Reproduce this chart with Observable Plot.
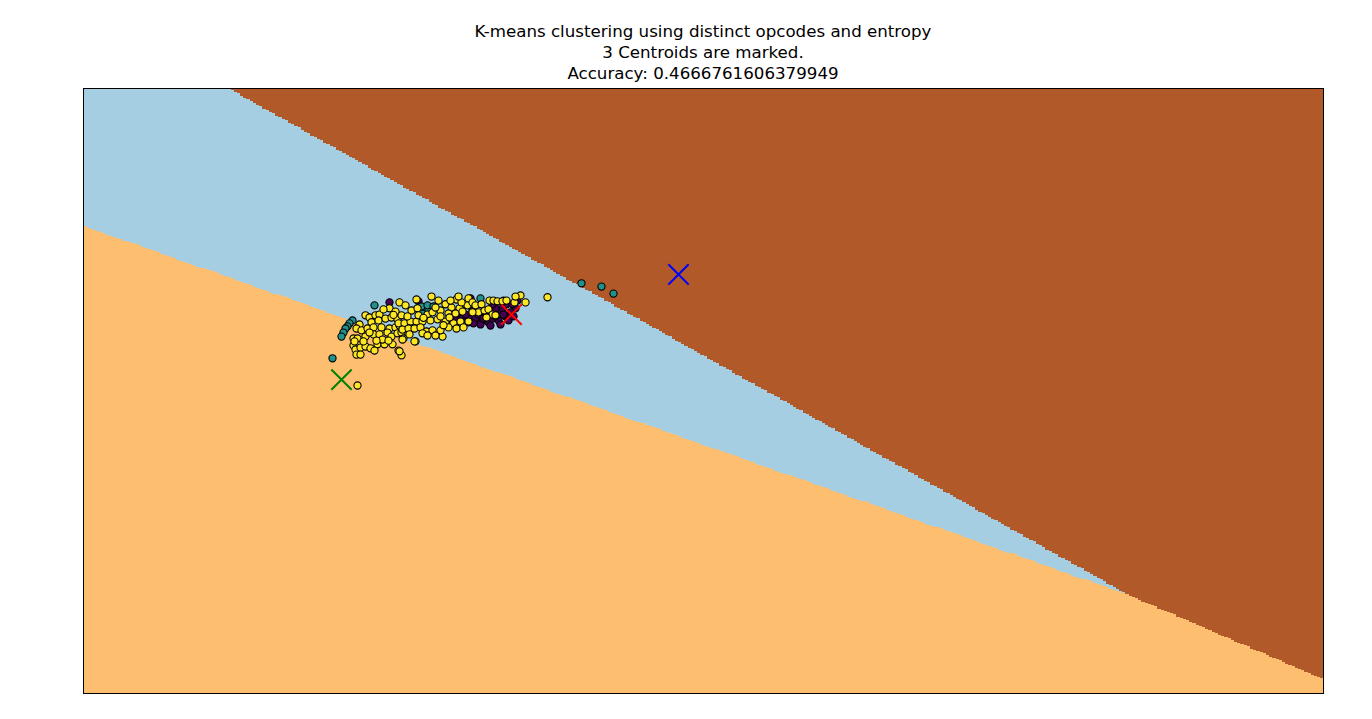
<!DOCTYPE html>
<html>
<head>
<meta charset="utf-8">
<script src="https://cdn.jsdelivr.net/npm/d3@7"></script>
<script src="https://cdn.jsdelivr.net/npm/@observablehq/plot@0.6"></script>
<style>
  html, body { margin: 0; padding: 0; background: #fff; }
  #wrap { position: relative; width: 1372px; height: 719px; }
  #title { position: absolute; left: 83px; top: 21px; width: 1240px; text-align: center;
    font-family: "DejaVu Sans", sans-serif; font-size: 16.67px; line-height: 21px; color: #000; }
</style>
</head>
<body>
<div id="wrap">
  <div id="chart"></div>
  <div id="title">K-means clustering using distinct opcodes and entropy<br>3 Centroids are marked.<br>Accuracy: 0.4666761606379949</div>
</div>
<script>
// Data domain (feature 1: distinct opcodes, feature 2: entropy) – arbitrary units
const xDomain = [0, 12.4];
const yDomain = [0, 16.46];

// K-means centroids
const centroidX = [4.28, 2.58, 5.95];
const centroidY = [10.31, 8.54, 11.40];
const centroidColors = ["#ff0000", "#008000", "#0000ff"];

// Region colours (Paired colormap) for cluster labels 0,1,2
const regionColors = ["#a6cee3", "#fdbf6f", "#b15928"];

// True label colours (viridis)
const labelColors = ["#440154", "#21918c", "#fde725"];

// Samples with true label 0
const label0 = [
  [3.06,10.64],[3.35,10.67],[3.87,10.75],[3.87,10.20],[4.15,10.37],[4.19,10.48],[4.15,10.15],
  [3.85,10.10],[3.92,10.20],[3.99,10.15],[4.05,10.10],[4.23,10.59],[4.32,10.48],[4.27,10.37],
  [4.22,10.26],[4.09,10.20],[4.02,10.31],[3.95,10.31],[4.12,10.48],[4.29,10.59],[4.25,10.15],
  [4.17,10.04],[4.07,10.01],[3.97,10.04],[3.79,10.20],[3.72,10.20],[3.65,10.10],[3.89,10.42],
  [3.82,10.31],[4.20,10.69],[4.34,10.69],[4.09,10.59],[3.75,10.37],[4.12,10.26],[4.20,10.31],
  [4.00,10.20],[3.90,10.07],[4.30,10.26]
];
// Samples with true label 1
const label1 = [
  [2.91,10.56],[2.69,10.15],[2.66,10.07],[2.64,9.99],[2.62,9.93],[2.60,9.82],[2.58,9.71],
  [2.49,9.12],[4.98,11.16],[5.18,11.07],[5.30,10.88],[3.39,10.34],[3.45,10.45],[3.38,10.53],
  [3.44,10.56],[3.50,10.53],[3.97,10.75],[3.15,10.26]
];
// Samples with true label 2
const label2 = [
  [3.16,10.64],[3.06,10.48],[2.74,8.38],[2.82,10.29],[2.86,10.23],[2.92,10.29],[2.96,10.31],
  [2.88,10.10],[2.95,10.15],[3.02,10.20],[3.08,10.23],[3.14,10.18],[3.18,10.29],[2.76,10.04],
  [2.73,9.93],[2.78,9.88],[2.84,9.93],[2.90,9.96],[2.98,9.96],[3.06,9.93],[3.12,9.96],
  [3.16,10.01],[2.70,9.66],[2.74,9.66],[2.82,9.71],[2.90,9.77],[2.96,9.77],[3.04,9.82],
  [3.08,9.71],[3.14,9.80],[3.18,9.82],[2.70,9.47],[2.72,9.36],[2.77,9.41],[2.82,9.44],
  [2.87,9.39],[2.94,9.50],[3.01,9.50],[3.09,9.50],[3.15,9.33],[3.18,9.20],[2.73,9.22],
  [2.77,9.22],[2.91,9.33],[2.71,9.58],[2.80,9.58],[3.33,10.72],[3.48,10.80],[4.64,10.78],
  [4.37,10.83],[4.42,10.64],[3.32,9.58],[3.20,9.66],[3.59,9.71],[3.16,9.31],[3.73,10.72],
  [3.82,10.59],[3.62,10.59],[3.68,10.50],[3.76,10.48],[3.84,10.56],[3.44,10.31],[3.49,10.37],
  [3.57,10.42],[3.65,10.34],[3.72,10.34],[3.79,10.39],[3.15,10.07],[3.21,10.07],[3.27,10.12],
  [3.33,10.12],[3.39,10.12],[3.47,10.15],[3.54,10.18],[3.62,10.12],[3.70,10.07],[3.77,10.12],
  [3.85,10.12],[3.19,9.90],[3.25,9.93],[3.31,9.93],[3.37,9.96],[3.43,9.85],[3.49,9.88],
  [3.57,9.88],[3.65,9.96],[3.73,9.93],[3.80,9.96],[3.39,9.80],[3.44,9.74],[3.52,9.74],
  [3.19,9.63],[3.31,9.58],[3.85,10.75],[3.89,10.64],[3.92,10.56],[4.06,10.69],[4.10,10.69],
  [4.14,10.67],[4.19,10.67],[4.23,10.69],[4.31,10.64],[3.95,10.37],[4.01,10.42],[4.05,10.45],
  [4.09,10.31],[4.12,10.29],[3.89,10.37],[4.03,10.23],[3.22,10.56],[3.28,10.42],[3.34,10.48],
  [3.00,10.45],[3.12,10.39],[3.24,10.26],[3.35,10.29],[3.55,10.69],[3.67,10.69],[3.78,10.64],
  [3.98,10.59],[4.32,10.80],[3.75,10.80],[2.99,9.63],[3.05,9.60],[2.93,9.60],[3.26,9.77],
  [3.57,10.26],[3.66,10.23],[3.52,10.50],[3.60,10.02],[3.40,10.22],[2.86,9.82],[3.10,10.30]
];

function nearestCentroid(x, y) {
  let best = 0, bestD = Infinity;
  for (let i = 0; i < centroidX.length; i++) {
    const dx = x - centroidX[i], dy = y - centroidY[i];
    const d = dx * dx + dy * dy;
    if (d < bestD) { bestD = d; best = i; }
  }
  return best;
}

const samples = [label0, label1, label2];

const chart = Plot.plot({
  width: 1372,
  height: 719,
  marginLeft: 83,
  marginRight: 49,
  marginTop: 88,
  marginBottom: 26,
  x: {domain: xDomain, axis: null},
  y: {domain: yDomain, axis: null},
  color: {type: "ordinal", domain: [0, 1, 2], range: regionColors},
  marks: [
    Plot.raster({
      fill: (x, y) => nearestCentroid(x, y),
      x1: xDomain[0], x2: xDomain[1], y1: yDomain[0], y2: yDomain[1],
      width: 388, height: 513,
      imageRendering: "pixelated"
    }),
    ...samples.map((pts, i) => Plot.dot(pts, {
      x: d => d[0], y: d => d[1], r: 3.6,
      fill: labelColors[i], stroke: "#000", strokeWidth: 1.1
    })),
    ...centroidX.map((cx, i) => Plot.dot([i], {
      x: j => centroidX[j], y: j => centroidY[j], symbol: "times", r: 9.3,
      stroke: centroidColors[i], strokeWidth: 2
    })),
    Plot.frame({stroke: "#000", strokeWidth: 1})
  ]
});
document.getElementById("chart").appendChild(chart);
</script>
</body>
</html>
